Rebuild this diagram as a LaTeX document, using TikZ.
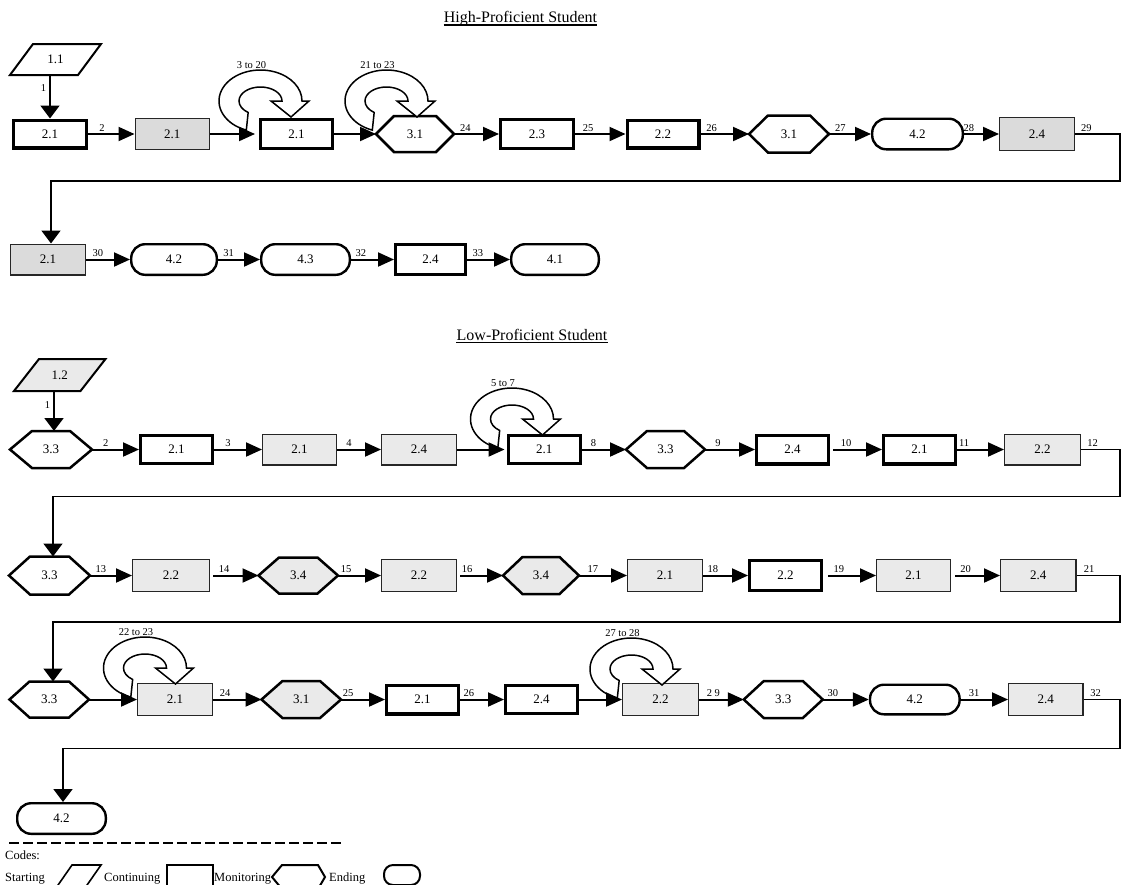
\documentclass[tikz,border=0pt]{standalone}
\usepackage{fontspec}
\setmainfont{Liberation Serif}
\usetikzlibrary{arrows.meta}
\pgfdeclarelayer{bg}
\pgfsetlayers{bg,main}

\definecolor{shadeA}{RGB}{219,219,219}
\definecolor{shadeB}{RGB}{234,234,234}

\tikzset{
  nlab/.style={font=\fontsize{13}{15}\selectfont, inner sep=0pt},
  tbox/.style 2 args={nlab, draw, fill=white, line width=3.4pt,
    minimum width={#1pt-3.4pt}, minimum height={#2pt-3.4pt}},
  gbox/.style n args={3}{nlab, draw=black!85, fill=#3, line width=1.3pt,
    minimum width={#1pt-1.3pt}, minimum height={#2pt-1.3pt}},
  rbox/.style 2 args={nlab, draw, fill=white, line width=2.4pt, rounded corners=14pt,
    minimum width={#1pt-2.4pt}, minimum height={#2pt-2.4pt}},
  hbox/.style 2 args={nlab, outer sep=0pt,
    minimum width={#1pt-2pt}, minimum height={#2pt-2pt}},
  hexline/.style={draw=black, line width=2.5pt, line join=miter},
  paraline/.style={draw=black, line width=2pt, line join=miter},
  elab/.style={font=\fontsize{10.5}{12}\selectfont, above, inner sep=1.8pt},
  looplab/.style={font=\fontsize{10.5}{12}\selectfont, inner sep=0pt},
  loopline/.style={draw=black, fill=white, line width=1.5pt, line join=miter},
  flow/.style={line width=2pt, -{Triangle[length=16pt,width=14pt]}},
  drop/.style={line width=2pt, -{Triangle[length=13pt,width=19pt]}},
  ret/.style={line width=1.6pt},
  retdrop/.style={line width=1.6pt, -{Triangle[length=13pt,width=19pt]}},
  ttl/.style={font=\fontsize{16}{18}\selectfont, inner sep=0pt},
  leg/.style={font=\fontsize{12.5}{14}\selectfont, inner sep=0pt},
}

% hexagon outline around an invisible node: name, corner inset, fill
\newcommand\hexshape[3]{%
  \filldraw[hexline, fill=#3] (#1.west) -- ([xshift=#2pt]#1.north west)
    -- ([xshift=-#2pt]#1.north east) -- (#1.east)
    -- ([xshift=-#2pt]#1.south east) -- ([xshift=#2pt]#1.south west) -- cycle;}
% parallelogram outline around an invisible node: name, slant, fill
\newcommand\parashape[3]{%
  \filldraw[paraline, fill=#3] (#1.south west) -- ([xshift=#2pt]#1.north west)
    -- (#1.north east) -- ([xshift=-#2pt]#1.south east) -- cycle;}
% curled block arrow that returns to the same step: centre, label name, label text
\newcommand\selfloop[3]{%
  \begin{scope}[shift={#1}]
    \filldraw[loopline] (110:41.5 and 31)
      arc[start angle=110, end angle=360, x radius=41.5, y radius=31]
      -- (48.5,0) -- (30.5,16) -- (10.5,0) -- (21.5,0)
      arc[start angle=0, end angle=-235, x radius=21.5, y radius=14] -- cycle;
    \node[looplab] (#2) at (-9,-36) {#3};
  \end{scope}}

\begin{document}
\begin{tikzpicture}[x=1pt, y=-1pt]
\path[use as bounding box] (0,0) rectangle (1123,884);
\clip (0,0) rectangle (1123,884);

% ---------------- titles ----------------
\node[ttl, anchor=base] (t1) at (520.5,22.5) {High-Proficient Student};
\draw[line width=1.1pt] ([yshift=-2.5pt]t1.base west) -- ([yshift=-2.5pt]t1.base east);
\node[ttl, anchor=base] (t2) at (532,340) {Low-Proficient Student};
\draw[line width=1.1pt] ([yshift=-2.5pt]t2.base west) -- ([yshift=-2.5pt]t2.base east);

% ---------------- high-proficient sequence ----------------
\node[hbox={93}{33}] (p1) at (55.5,59.5) {1.1};
\node[tbox={76}{31}] (a1) at (50,134) {2.1};
\node[gbox={75.5}{32}{shadeA}] (a2) at (172.25,134) {2.1};
\node[tbox={75}{32}] (a3) at (296.5,134) {2.1};
\node[hbox={80}{38}] (a4) at (415,134) {3.1};
\node[tbox={76}{32}] (a5) at (537,134) {2.3};
\node[tbox={75}{31}] (a6) at (663,134) {2.2};
\node[hbox={82}{39}] (a7) at (789,134) {3.1};
\node[rbox={93}{33}] (a8) at (917.5,134) {4.2};
\node[gbox={76}{34}{shadeA}] (a9) at (1037,134) {2.4};

\node[gbox={76}{32}{shadeA}] (b1) at (48,259.5) {2.1};
\node[rbox={88}{33}] (b2) at (174,259.5) {4.2};
\node[rbox={91}{33}] (b3) at (305.5,259.5) {4.3};
\node[tbox={73}{33}] (b4) at (430.5,259.5) {2.4};
\node[rbox={90}{33}] (b5) at (555,259.5) {4.1};

% ---------------- low-proficient sequence ----------------
\node[hbox={93.5}{34}] (p2) at (59.75,375) {1.2};
\node[hbox={84}{39}] (c1) at (51,449.5) {3.3};
\node[tbox={75}{31}] (c2) at (176.5,449.5) {2.1};
\node[gbox={75}{32}{shadeB}] (c3) at (299.5,449.5) {2.1};
\node[gbox={76}{32}{shadeB}] (c4) at (419,449.5) {2.4};
\node[tbox={75.5}{31}] (c5) at (544.25,449.5) {2.1};
\node[hbox={81}{39}] (c6) at (665.5,449.5) {3.3};
\node[tbox={75}{32}] (c7) at (792.5,449.5) {2.4};
\node[tbox={75}{32}] (c8) at (919.5,449.5) {2.1};
\node[gbox={77}{32}{shadeB}] (c9) at (1042.5,449.5) {2.2};

\node[hbox={83}{40}] (d1) at (49.5,575.5) {3.3};
\node[gbox={78}{33}{shadeB}] (d2) at (171,575.5) {2.2};
\node[hbox={81.5}{38}] (d3) at (298.25,575.5) {3.4};
\node[gbox={76}{33}{shadeB}] (d4) at (419,575.5) {2.2};
\node[hbox={78}{39}] (d5) at (541,575.5) {3.4};
\node[gbox={76}{33}{shadeB}] (d6) at (665,575.5) {2.1};
\node[tbox={75}{33}] (d7) at (785.5,575.5) {2.2};
\node[gbox={75}{33}{shadeB}] (d8) at (913.5,575.5) {2.1};
\node[gbox={76.5}{33}{shadeB}] (d9) at (1038.25,575.5) {2.4};

\node[hbox={81.5}{38}] (e1) at (49.25,699.5) {3.3};
\node[gbox={76}{33}{shadeB}] (e2) at (175,699.5) {2.1};
\node[hbox={81.5}{39}] (e3) at (301.25,699.5) {3.1};
\node[tbox={75}{32}] (e4) at (422.5,699.5) {2.1};
\node[tbox={75}{31}] (e5) at (541.5,699.5) {2.4};
\node[gbox={77}{33}{shadeB}] (e6) at (660.5,699.5) {2.2};
\node[hbox={81}{39}] (e7) at (783.3,699.5) {3.3};
\node[rbox={92}{32}] (e8) at (914.8,699.5) {4.2};
\node[gbox={75.5}{33}{shadeB}] (e9) at (1045.75,699.5) {2.4};

\node[rbox={91}{33}] (f1) at (61.5,818.5) {4.2};

% outlines of the starting and monitoring steps
\begin{pgfonlayer}{bg}
  \parashape{p1}{23}{white}
  \parashape{p2}{25}{shadeB}
  \hexshape{a4}{18}{white}
  \hexshape{a7}{19}{white}
  \hexshape{c1}{22}{white}
  \hexshape{c6}{21}{white}
  \hexshape{d1}{21}{white}
  \hexshape{d3}{20.5}{shadeB}
  \hexshape{d5}{19.5}{shadeB}
  \hexshape{e1}{20}{white}
  \hexshape{e3}{21}{shadeB}
  \hexshape{e7}{20}{white}
\end{pgfonlayer}

% repeated steps
\selfloop{(260.5,101)}{k1}{3 to 20}
\selfloop{(386.5,101)}{k2}{21 to 23}
\selfloop{(512,419)}{k3}{5 to 7}
\selfloop{(145,668)}{k4}{22 to 23}
\selfloop{(631.5,669)}{k5}{27 to 28}

% ---------------- connectors: high-proficient ----------------
\draw[drop] ([xshift=-5.5pt]p1.south) -- node[elab, left, inner sep=3pt, pos=.3]{1} (a1.north);
\draw[flow] (a1.east) -- node[elab, pos=.30]{2} (a2.west);
\draw[flow, shorten >=4pt] (a2.east) -- (a3.west);
\draw[flow] (a3.east) -- (a4.west);
\draw[flow] (a4.east) -- node[elab, pos=.25]{24} (a5.west);
\draw[flow] (a5.east) -- node[elab, pos=.26]{25} (a6.west);
\draw[flow] (a6.east) -- node[elab, pos=.23]{26} (a7.west);
\draw[flow] (a7.east) -- node[elab, pos=.27]{27} (a8.west);
\draw[flow] (a8.east) -- node[elab, pos=.14]{28} (a9.west);
\coordinate (rA1) at (1120,181);
\coordinate (rA2) at (51,181);
\draw[retdrop] (a9.east) -- node[elab, pos=.25]{29} (a9.east -| rA1) -- (rA1) -- (rA2) -- (rA2 |- b1.north);

\draw[flow] (b1.east) -- node[elab, pos=.27]{30} (b2.west);
\draw[flow] (b2.east) -- node[elab, pos=.25]{31} (b3.west);
\draw[flow] (b3.east) -- node[elab, pos=.23]{32} (b4.west);
\draw[flow] (b4.east) -- node[elab, pos=.25]{33} (b5.west);

% ---------------- connectors: low-proficient ----------------
\draw[drop] ([xshift=-5.75pt]p2.south) -- node[elab, left, inner sep=3pt, pos=.35]{1} ([xshift=3pt]c1.north);
\draw[flow] (c1.east) -- node[elab, pos=.29]{2} (c2.west);
\draw[flow] (c2.east) -- node[elab, pos=.29]{3} (c3.west);
\draw[flow] (c3.east) -- node[elab, pos=.27]{4} (c4.west);
\draw[flow, shorten >=2pt] (c4.east) -- (c5.west);
\draw[flow] (c5.east) -- node[elab, pos=.26]{8} (c6.west);
\draw[flow] (c6.east) -- node[elab, pos=.26]{9} (c7.west);
\draw[flow, shorten <=3pt] (c7.east) -- node[elab, pos=.31]{10} (c8.west);
\draw[flow] (c8.east) -- node[elab, pos=.15]{11} (c9.west);
\coordinate (rC1) at (1120,496.5);
\coordinate (rC2) at (53,496.5);
\draw[retdrop] (c9.east) -- node[elab, pos=.3]{12} (c9.east -| rC1) -- (rC1) -- (rC2) -- (rC2 |- d1.north);

\draw[flow] (d1.east) -- node[elab, pos=.26]{13} (d2.west);
\draw[flow, shorten <=3pt] (d2.east) -- node[elab, pos=.29]{14} (d3.west);
\draw[flow] (d3.east) -- node[elab, pos=.19]{15} (d4.west);
\draw[flow, shorten <=3pt] (d4.east) -- node[elab, pos=.22]{16} (d5.west);
\draw[flow] (d5.east) -- node[elab, pos=.29]{17} (d6.west);
\draw[flow] (d6.east) -- node[elab, pos=.22]{18} (d7.west);
\draw[flow, shorten <=5pt] (d7.east) -- node[elab, pos=.3]{19} (d8.west);
\draw[flow, shorten <=4pt] (d8.east) -- node[elab, pos=.3]{20} (d9.west);
\coordinate (rD1) at (1120,622);
\coordinate (rD2) at (53,622);
\draw[retdrop] (d9.east) -- node[elab, pos=.29]{21} (d9.east -| rD1) -- (rD1) -- (rD2) -- (rD2 |- e1.north);

\draw[flow] (e1.east) -- (e2.west);
\draw[flow] (e2.east) -- node[elab, pos=.25]{24} (e3.west);
\draw[flow] (e3.east) -- node[elab, pos=.16]{25} (e4.west);
\draw[flow] (e4.east) -- node[elab, pos=.2]{26} (e5.west);
\draw[flow] (e5.east) -- (e6.west);
\draw[flow] (e6.east) -- node[elab, pos=.32]{2 9} (e7.west);
\draw[flow] (e7.east) -- node[elab, pos=.22]{30} (e8.west);
\draw[flow] (e8.east) -- node[elab, pos=.28]{31} (e9.west);
\coordinate (rE1) at (1120,748.5);
\coordinate (rE2) at (63,748.5);
\draw[retdrop] (e9.east) -- node[elab, pos=.33]{32} (e9.east -| rE1) -- (rE1) -- (rE2) -- (rE2 |- f1.north);

% ---------------- key ----------------
\draw[line width=1.5pt, dash pattern=on 10pt off 4pt] (9,843) -- (342,843);
\node[leg, anchor=base west] (kc) at (5,859.5) {Codes:};
\node[leg, anchor=base west] (ks) at (5,881.5) {Starting};
\draw[line width=1.6pt, line join=miter] (49,898) -- (72,865) -- (101,865) -- (78,898) -- cycle;
\node[leg, anchor=base west] (kn) at (104,881.5) {Continuing};
\draw[line width=1.1pt] (167,865) rectangle (213,900);
\node[leg, anchor=base west] (km) at (214,881.5) {Monitoring};
\draw[line width=2pt, line join=miter] (272,877) -- (282,865) -- (318,865) -- (325,877) -- (318,889) -- (282,889) -- cycle;
\node[leg, anchor=base west] (ke) at (329,881.5) {Ending};
\draw[line width=2pt, rounded corners=9pt] (384,865) rectangle (420,885);
\end{tikzpicture}
\end{document}
